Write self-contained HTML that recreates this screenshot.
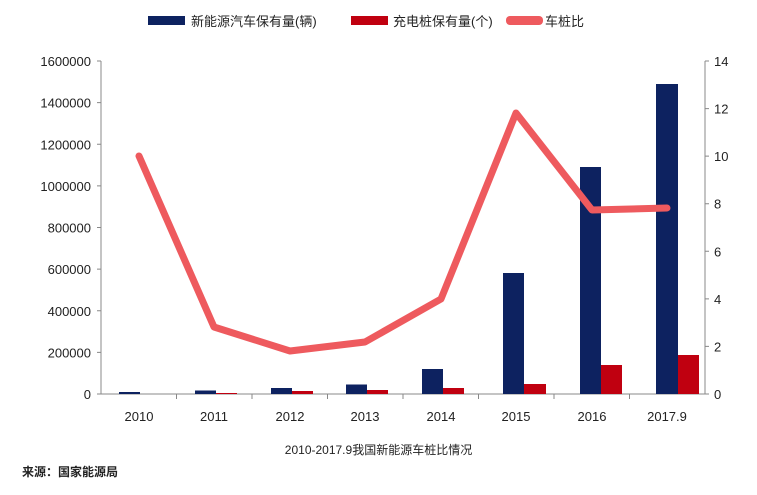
<!DOCTYPE html>
<html><head><meta charset="utf-8"><style>
body{margin:0;background:#fff;}
svg text{font-family:"Liberation Sans","Noto Sans CJK SC",sans-serif;fill:#222;}
</style></head><body>
<svg width="757" height="490" viewBox="0 0 757 490" xmlns="http://www.w3.org/2000/svg">
<rect width="757" height="490" fill="#fff"/>
<!-- legend -->
<rect x="148" y="16" width="37" height="9" fill="#0d2260"/>
<text x="191" y="26" font-size="13">新能源汽车保有量(辆)</text>
<rect x="351" y="16" width="37" height="9" fill="#c00010"/>
<text x="393" y="26" font-size="13">充电桩保有量(个)</text>
<rect x="506" y="16" width="37" height="9" rx="4" fill="#ee5a5e"/>
<text x="545" y="26" font-size="13">车桩比</text>
<!-- axes -->
<g stroke="#888" stroke-width="1" fill="none">
<line x1="101" y1="61" x2="101" y2="394"/>
<line x1="705" y1="61" x2="705" y2="394"/>
<line x1="97" y1="394" x2="709" y2="394"/>
<path d="M97 61H101M97 102.6H101M97 144.3H101M97 185.9H101M97 227.5H101M97 269.1H101M97 310.8H101M97 352.4H101"/>
<path d="M705 61H709M705 108.6H709M705 156.1H709M705 203.7H709M705 251.3H709M705 298.9H709M705 346.4H709"/>
<path d="M176.5 394V399M252 394V399M327.5 394V399M403 394V399M478.5 394V399M554 394V399M629.5 394V399"/>
</g>
<g font-size="13" text-anchor="end">
<text x="91" y="66">1600000</text><text x="91" y="107.6">1400000</text><text x="91" y="149.3">1200000</text>
<text x="91" y="190.9">1000000</text><text x="91" y="232.5">800000</text><text x="91" y="274.1">600000</text>
<text x="91" y="315.8">400000</text><text x="91" y="357.4">200000</text><text x="91" y="399">0</text>
</g>
<g font-size="13" text-anchor="start">
<text x="714" y="66">14</text><text x="714" y="113.6">12</text><text x="714" y="161.1">10</text>
<text x="714" y="208.7">8</text><text x="714" y="256.3">6</text><text x="714" y="303.9">4</text>
<text x="714" y="351.4">2</text><text x="714" y="399">0</text>
</g>
<g font-size="13" text-anchor="middle">
<text x="139" y="421">2010</text><text x="214" y="421">2011</text><text x="290" y="421">2012</text>
<text x="365" y="421">2013</text><text x="441" y="421">2014</text><text x="516" y="421">2015</text>
<text x="592" y="421">2016</text><text x="667" y="421">2017.9</text>
</g>
<!-- bars -->
<g fill="#0d2260">
<rect x="119" y="392" width="21" height="2"/>
<rect x="195" y="390.5" width="21" height="3.5"/>
<rect x="271" y="388" width="21" height="6"/>
<rect x="346" y="384.5" width="21" height="9.5"/>
<rect x="422" y="369" width="21" height="25"/>
<rect x="503" y="273" width="21" height="121"/>
<rect x="580" y="167" width="21" height="227"/>
<rect x="656" y="84" width="22" height="310"/>
</g>
<g fill="#c00010">
<rect x="216" y="393" width="21" height="1"/>
<rect x="292" y="391" width="21" height="3"/>
<rect x="367" y="390" width="21" height="4"/>
<rect x="443" y="388" width="21" height="6"/>
<rect x="524" y="384" width="22" height="10"/>
<rect x="601" y="365" width="21" height="29"/>
<rect x="678" y="355" width="21" height="39"/>
</g>
<polyline points="139,156 214,327 290,351 365,342 441,299 516,113 592,210 667,208" fill="none" stroke="#ee5a5e" stroke-width="7" stroke-linejoin="round" stroke-linecap="round"/>
<text x="378.5" y="454" font-size="12" text-anchor="middle">2010-2017.9我国新能源车桩比情况</text>
<text x="22" y="476" font-size="12" font-weight="bold" fill="#333">来源：国家能源局</text>
</svg>
</body></html>
